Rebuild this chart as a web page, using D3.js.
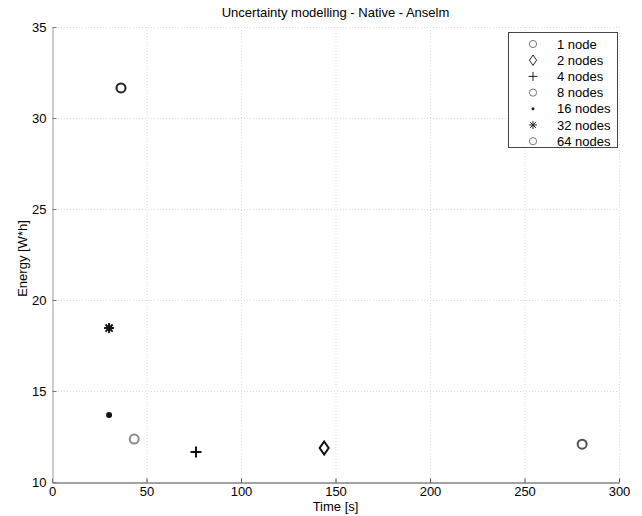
<!DOCTYPE html>
<html><head><meta charset="utf-8">
<script src="https://cdn.jsdelivr.net/npm/d3@7"></script>
<style>body{margin:0;background:#fff}svg{display:block;font-family:"Liberation Sans",Arial,sans-serif}</style>
</head><body>
<svg id="c" width="642" height="516"></svg>
<script>
const labels = ["1 node","2 nodes","4 nodes","8 nodes","16 nodes","32 nodes","64 nodes"];
const timeValues = [280.5, 144, 76.2, 43.5, 30.2, 30.2, 36.5];
const energyValues = [12.08, 11.87, 11.65, 12.36, 13.68, 18.46, 31.65];
const markers = ["circle","diamond","plus","circle","dot","asterisk","circle"];
const colors = ["#505050","#111","#111","#8a8a8a","#111","#111","#222"];
const xTicks = [0,50,100,150,200,250,300];
const yTicks = [10,15,20,25,30,35];

const FS = "13px";
const svg = d3.select("#c");
const L=52,R=619,T=27,B=482;
const x = d3.scaleLinear().domain([0,300]).range([L,R]);
const y = d3.scaleLinear().domain([10,35]).range([B,T]);

// grid
const g = svg.append("g");
g.selectAll(".gx").data(xTicks.slice(1)).enter().append("line")
 .attr("x1",d=>x(d)+0.5).attr("x2",d=>x(d)+0.5).attr("y1",T).attr("y2",B)
 .attr("stroke","#dcdcdc").attr("stroke-dasharray","1,2");
g.selectAll(".gy").data(yTicks.slice(1)).enter().append("line")
 .attr("y1",d=>y(d)+0.5).attr("y2",d=>y(d)+0.5).attr("x1",L).attr("x2",R)
 .attr("stroke","#dcdcdc").attr("stroke-dasharray","1,2");

// axes
const xAxis = d3.axisBottom(x).tickValues(xTicks).tickSizeInner(-4).tickSizeOuter(0).tickPadding(4);
const xa = svg.append("g").attr("transform",`translate(0,${B+0.5})`).call(xAxis);
xa.select(".domain").attr("stroke","#444");
xa.selectAll(".tick line").attr("stroke","#444");
xa.selectAll("text").attr("font-size",FS).attr("fill","#000").attr("font-family","Liberation Sans, Arial, sans-serif");

const yAxis = d3.axisLeft(y).tickValues(yTicks).tickSizeInner(-4).tickSizeOuter(0).tickPadding(6);
const ya = svg.append("g").attr("transform",`translate(${L+0.5},0)`).call(yAxis);
ya.select(".domain").attr("stroke","#999");
ya.selectAll(".tick line").attr("stroke","#777");
ya.selectAll("text").attr("font-size",FS).attr("fill","#000").attr("font-family","Liberation Sans, Arial, sans-serif");

// labels
svg.append("text").attr("x",(L+R)/2).attr("y",17).attr("text-anchor","middle").attr("font-size",FS).text("Uncertainty modelling - Native - Anselm");
svg.append("text").attr("x",(L+R)/2).attr("y",511).attr("text-anchor","middle").attr("font-size",FS).text("Time [s]");
svg.append("text").attr("transform",`translate(27,${(T+B)/2+4}) rotate(-90)`).attr("text-anchor","middle").attr("font-size",FS).text("Energy [W*h]");

function drawMarker(sel, type, color, big){
  const sw = big?2:1;
  if(type==="circle"){
    sel.append("circle").attr("r",big?4.5:3.6).attr("fill","none").attr("stroke",color).attr("stroke-width",sw);
  } else if(type==="diamond"){
    const a=big?6.5:5.2, b=big?4.5:3.6;
    sel.append("path").attr("d",`M0,${-a}L${b},0L0,${a}L${-b},0Z`).attr("fill","none").attr("stroke",color).attr("stroke-width",sw);
  } else if(type==="plus"){
    const a=big?5.5:4.5;
    sel.append("path").attr("d",`M${-a},0H${a}M0,${-a}V${a}`).attr("stroke",color).attr("stroke-width",sw);
  } else if(type==="dot"){
    sel.append("circle").attr("r",big?3:1.5).attr("fill",color);
  } else if(type==="asterisk"){
    const a=big?5:4, d=a*0.72;
    sel.append("path").attr("d",`M${-a},0H${a}M0,${-a}V${a}M${-d},${-d}L${d},${d}M${-d},${d}L${d},${-d}`).attr("stroke",color).attr("stroke-width",sw);
  }
}

// points
labels.forEach((lab,i)=>{
  const p = svg.append("g").attr("transform",`translate(${x(timeValues[i])},${y(energyValues[i])})`);
  drawMarker(p, markers[i], colors[i], true);
});

// legend
const lg = svg.append("g");
lg.append("rect").attr("x",508.5).attr("y",32.5).attr("width",109).attr("height",115).attr("fill","#fff").attr("stroke","#444");
labels.forEach((lab,i)=>{
  const yy = 44 + i*16.2;
  const m = lg.append("g").attr("transform",`translate(533,${yy})`);
  drawMarker(m, markers[i], markers[i]==="circle"?"#777":"#222", false);
  lg.append("text").attr("x",557).attr("y",yy+4.5).attr("font-size",FS).text(lab);
});
</script>
</body></html>
